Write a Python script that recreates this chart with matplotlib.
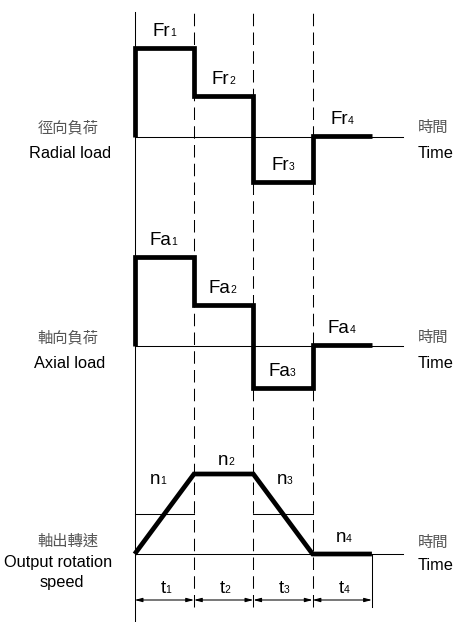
import matplotlib
matplotlib.use('Agg')
import matplotlib.pyplot as plt

plt.rcParams['font.family'] = ['Liberation Sans', 'Noto Sans CJK TC', 'DejaVu Sans']

# data: four equal time periods t1..t4
edges = [0, 1, 2, 3, 4]
period_names = ['1', '2', '3', '4']
radial = [89, 41, -45, 1]      # Fr1..Fr4
axial = [89, 41, -42, 1]       # Fa1..Fa4
speed = [0, 80, 80, 0, 0]      # n at each period boundary
speed_ref = 40                 # thin step drawn in accel / decel periods
time_end = 4.52                # end of the time axis line

# layout (pixels)
W, H = 456, 622
x_left, period_px = 134.7, 59.3
xlim = (-x_left / period_px, (W - x_left) / period_px)
thick = 3.4
thin = 0.75

fig = plt.figure(figsize=(W / 100, H / 100), dpi=100)


def band(r0, r1, base):
    ax = fig.add_axes([0, 1 - r1 / H, 1, (r1 - r0) / H])
    ax.set_xlim(*xlim)
    ax.set_ylim(base - r1, base - r0)
    ax.axis('off')
    ax.patch.set_alpha(0)
    return ax


def label(ax, x, y, main, sub):
    ax.text(x, y, main, ha='right', va='baseline', fontsize=13.5)
    ax.text(x, y, sub, ha='left', va='baseline', fontsize=7.5)


def side_text(px, py, s, ha='center', cjk=False):
    if cjk:
        fig.text(px / W, 1 - py / H, s, ha=ha, va='center', fontsize=11, color='#555555')
    else:
        fig.text(px / W, 1 - py / H, s, ha=ha, va='center', fontsize=11.8)


def step_path(vals):
    xs, ys = [edges[0]], [0]
    for i, v in enumerate(vals):
        xs += [edges[i], edges[i + 1]]
        ys += [v, v]
    return xs, ys


# background: period boundaries
bg = fig.add_axes([0, 0, 1, 1])
bg.set_xlim(*xlim)
bg.set_ylim(0, 1)
bg.axis('off')
bg.axvline(edges[0], 0, 1 - 12 / H, color='black', lw=thin)
for t in edges[1:-1]:
    bg.axvline(t, 1 - 607 / H, 1 - 12 / H, color='black', lw=thin, dashes=(12, 6))

# panel 1: radial load
ax1 = band(0, 210, 137)
ax1.plot([edges[0], time_end], [0, 0], color='black', lw=thin)
xs, ys = step_path(radial)
ax1.plot(xs, ys, color='black', lw=thick, solid_joinstyle='miter', solid_capstyle='butt')
for i, v in enumerate(radial):
    label(ax1, edges[i] + 0.6, v + 12, 'Fr', period_names[i])
side_text(68, 128, '徑向負荷', cjk=True)
side_text(70, 153, 'Radial load')
side_text(418, 128, '時間', ha='left', cjk=True)
side_text(418, 153, 'Time', ha='left')

# panel 2: axial load
ax2 = band(200, 410, 346)
ax2.plot([edges[0], time_end], [0, 0], color='black', lw=thin)
xs, ys = step_path(axial)
ax2.plot(xs, ys, color='black', lw=thick, solid_joinstyle='miter', solid_capstyle='butt')
for i, v in enumerate(axial):
    label(ax2, edges[i] + 0.62, v + 12, 'Fa', period_names[i])
side_text(68, 338, '軸向負荷', cjk=True)
side_text(70, 363, 'Axial load')
side_text(418, 338, '時間', ha='left', cjk=True)
side_text(418, 363, 'Time', ha='left')

# panel 3: output rotation speed
ax3 = band(400, 622, 554)
ax3.plot([edges[0], time_end], [0, 0], color='black', lw=thin)
ax3.plot([edges[0], edges[1]], [speed_ref, speed_ref], color='black', lw=thin)
ax3.plot([edges[2], edges[3]], [speed_ref, speed_ref], color='black', lw=thin)
ax3.plot(edges, speed, color='black', lw=thick, solid_joinstyle='miter', solid_capstyle='butt')
n_pos = [(0.43, 70), (1.58, 89), (2.57, 70), (3.56, 12)]
for i, (x, y) in enumerate(n_pos):
    label(ax3, x, y, 'n', period_names[i])

# period dimension arrows
ax3.plot([edges[-1], edges[-1]], [0, -53], color='black', lw=thin)
for i in range(len(edges) - 1):
    ax3.annotate('', xy=(edges[i + 1], -46), xytext=(edges[i], -46),
                 arrowprops=dict(arrowstyle='<|-|>,head_length=0.45,head_width=0.12',
                                 color='black', lw=thin, shrinkA=0, shrinkB=0))
    label(ax3, edges[i] + 0.52, -39, 't', period_names[i])
side_text(68, 542, '軸出轉速', cjk=True)
side_text(58, 562, 'Output rotation')
side_text(62, 582, 'speed')
side_text(418, 543, '時間', ha='left', cjk=True)
side_text(418, 566, 'Time', ha='left')

fig.savefig('out.png', dpi=100, facecolor='white')
